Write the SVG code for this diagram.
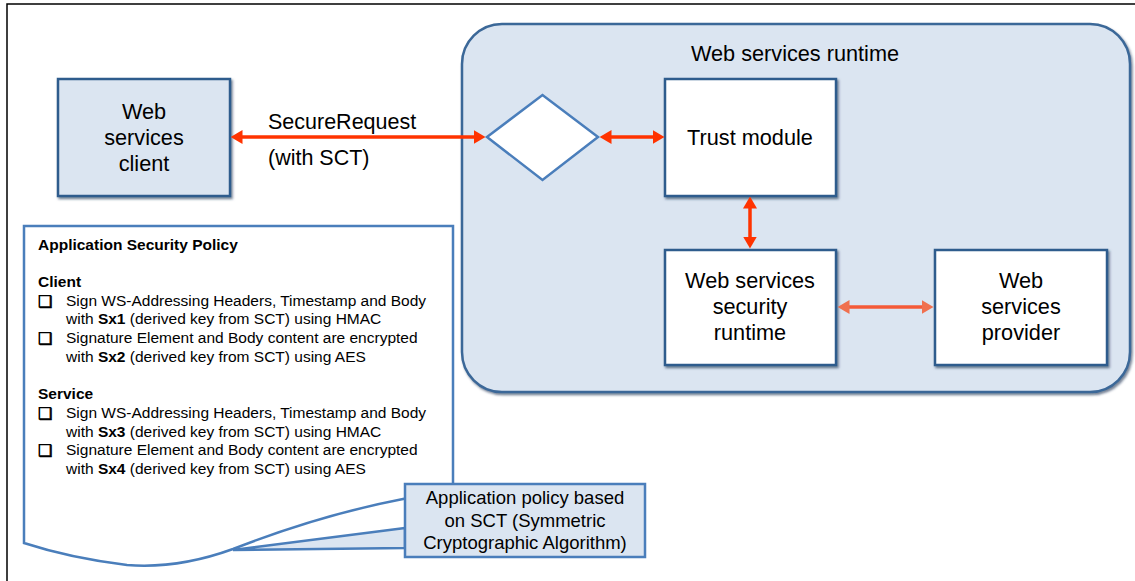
<svg xmlns="http://www.w3.org/2000/svg" width="1135" height="581" viewBox="0 0 1135 581">
<style>
.t{font-family:"Liberation Sans",Arial,sans-serif;fill:#000}
.lbl{font-size:21.7px}
.sm{font-size:15.5px}
.b{font-weight:bold}
.box{stroke:#2f5b8d;stroke-width:2.5}
.cb{font-family:"DejaVu Sans",sans-serif;font-size:16px;fill:#000;stroke:#000;stroke-width:0.7}
.red{stroke:#ff3300;stroke-width:3.5;fill:none}
.red2{stroke:#f45a38;stroke-width:3.5;fill:none}
</style>
<defs>
<filter id="sh" x="-10%" y="-10%" width="130%" height="130%">
<feDropShadow dx="1.5" dy="2" stdDeviation="0.8" flood-color="#1d3653" flood-opacity="0.6"/>
</filter>
<marker id="ah" viewBox="0 0 12 14" markerWidth="12" markerHeight="14" refX="0.5" refY="7" orient="auto-start-reverse" markerUnits="userSpaceOnUse">
<path d="M0,0 L12,7 L0,14 z" fill="#ff3300"/>
</marker>
<marker id="ah2" viewBox="0 0 12 14" markerWidth="12" markerHeight="14" refX="0.5" refY="7" orient="auto-start-reverse" markerUnits="userSpaceOnUse">
<path d="M0,0 L12,7 L0,14 z" fill="#f0704f"/>
</marker>
</defs>
<rect width="1135" height="581" fill="#fff"/>
<path d="M7,581 V4 H1135" fill="none" stroke="#000" stroke-width="1.5"/>

<g id="runtime">
<rect x="462" y="24" width="668" height="368" rx="40" fill="#dbe5f1" stroke="#3b6798" stroke-width="2.5" filter="url(#sh)"/>
<text class="t lbl" x="795" y="61" text-anchor="middle">Web services runtime</text>
</g>

<g id="client">
<rect x="58" y="79" width="172" height="117" fill="#dbe5f1" class="box" filter="url(#sh)"/>
<text class="t lbl" x="144" y="119" text-anchor="middle">Web</text>
<text class="t lbl" x="144" y="145" text-anchor="middle">services</text>
<text class="t lbl" x="144" y="171" text-anchor="middle">client</text>
</g>

<g id="gateway">
<polygon points="487,137 542.5,95 598,137 542.5,180" fill="#fff" stroke="#4a7ebb" stroke-width="2.5"/>
</g>

<g id="trust">
<rect x="665" y="79" width="171" height="117" fill="#fff" class="box" filter="url(#sh)"/>
<text class="t lbl" x="750" y="145" text-anchor="middle">Trust module</text>
</g>

<g id="wssr">
<rect x="665" y="250" width="171" height="115" fill="#fff" class="box" filter="url(#sh)"/>
<text class="t lbl" x="750" y="288" text-anchor="middle">Web services</text>
<text class="t lbl" x="750" y="314" text-anchor="middle">security</text>
<text class="t lbl" x="750" y="340" text-anchor="middle">runtime</text>
</g>

<g id="provider">
<rect x="935" y="250" width="172" height="115" fill="#fff" class="box" filter="url(#sh)"/>
<text class="t lbl" x="1021" y="288" text-anchor="middle">Web</text>
<text class="t lbl" x="1021" y="314" text-anchor="middle">services</text>
<text class="t lbl" x="1021" y="340" text-anchor="middle">provider</text>
</g>

<g id="connectors">
<line class="red" x1="242" y1="137" x2="474" y2="137" marker-start="url(#ah)" marker-end="url(#ah)"/>
<text class="t" style="font-size:21.5px" x="268" y="129">SecureRequest</text>
<text class="t" style="font-size:21.5px" x="268" y="165">(with SCT)</text>
<line class="red" x1="611" y1="137" x2="653" y2="137" marker-start="url(#ah)" marker-end="url(#ah)"/>
<line class="red" x1="750" y1="208" x2="750" y2="237" marker-start="url(#ah)" marker-end="url(#ah)"/>
<line class="red2" x1="849" y1="307" x2="922" y2="307" marker-start="url(#ah2)" marker-end="url(#ah2)"/>
</g>

<g id="policy">
<path d="M24,226 H453 V490 L403,499 Q320,515 233,549 Q178,569 127,565 Q70,558 24,543 Z" fill="#fff" stroke="#4a7ebb" stroke-width="2.5"/>
<text class="t sm b" x="38" y="250">Application Security Policy</text>
<text class="t sm b" x="38" y="287">Client</text>
<text class="cb" x="38" y="307">❑</text>
<text class="t sm" x="66" y="306">Sign WS-Addressing Headers, Timestamp and Body</text>
<text class="t sm" x="66" y="324">with <tspan class="b">Sx1</tspan> (derived key from SCT) using HMAC</text>
<text class="cb" x="38" y="344">❑</text>
<text class="t sm" x="66" y="343">Signature Element and Body content are encrypted</text>
<text class="t sm" x="66" y="362">with <tspan class="b">Sx2</tspan> (derived key from SCT) using AES</text>
<text class="t sm b" x="38" y="399">Service</text>
<text class="cb" x="38" y="419">❑</text>
<text class="t sm" x="66" y="418">Sign WS-Addressing Headers, Timestamp and Body</text>
<text class="t sm" x="66" y="437">with <tspan class="b">Sx3</tspan> (derived key from SCT) using HMAC</text>
<text class="cb" x="38" y="456">❑</text>
<text class="t sm" x="66" y="455">Signature Element and Body content are encrypted</text>
<text class="t sm" x="66" y="474">with <tspan class="b">Sx4</tspan> (derived key from SCT) using AES</text>
</g>

<g id="callout">
<polygon points="405,528 233,550 405,548" fill="#dbe5f1" stroke="#4a7ebb" stroke-width="2.5" stroke-linejoin="miter"/>
<rect x="405" y="484" width="240" height="73" fill="#dbe5f1" stroke="#4a7ebb" stroke-width="2.5"/>
<text class="t" style="font-size:18.5px" x="525" y="504" text-anchor="middle">Application policy based</text>
<text class="t" style="font-size:18.5px" x="525" y="527" text-anchor="middle">on SCT (Symmetric</text>
<text class="t" style="font-size:18.5px" x="525" y="549" text-anchor="middle">Cryptographic Algorithm)</text>
</g>
</svg>
